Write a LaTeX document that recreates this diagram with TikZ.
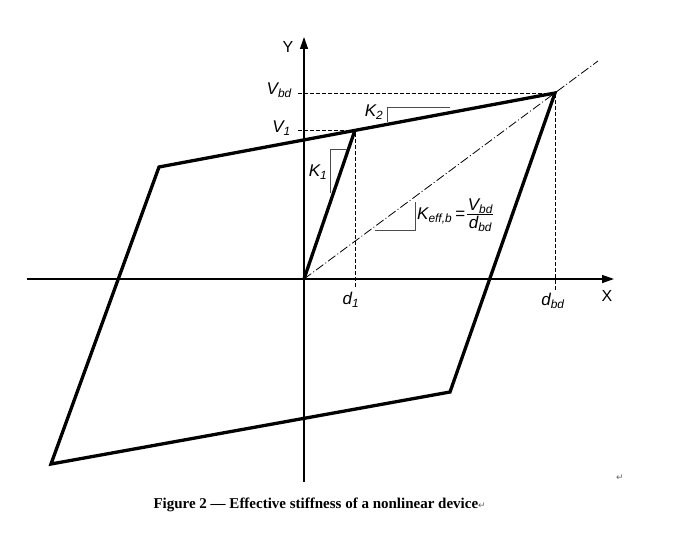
\documentclass[tikz,border=0pt]{standalone}
\usepackage{fontspec}
\setmainfont{Liberation Sans}
\newfontfamily\capfont{Liberation Serif}
\newfontfamily\markfont{DejaVu Sans}
\usetikzlibrary{arrows.meta,positioning}

\tikzset{
	axis/.style={line width=1.3pt, -{Triangle[length=12pt,width=8pt]}},
	curve/.style={line width=3.3pt, line join=miter},
	guide/.style={line width=0.9pt, dash pattern=on 4pt off 2pt},
	secant/.style={line width=0.8pt, dash pattern=on 9pt off 2.5pt on 1pt off 2.5pt},
	slope/.style={line width=1pt, black!70},
	lab/.style={font=\fontsize{17}{17}\selectfont\itshape, inner sep=1pt},
	axlab/.style={font=\fontsize{16}{16}\selectfont, inner sep=1pt},
	retmark/.style={font=\markfont\fontsize{9}{9}\selectfont, text=black!60, inner sep=0pt},
}

\begin{document}
\begin{tikzpicture}[x=1pt, y=-1pt]
	\useasboundingbox (0,0) rectangle (684,537);

	% points of the loop
	\coordinate (o)   at (304,279);
	\coordinate (p1)  at (355,130);
	\coordinate (pbd) at (555,93);
	\coordinate (ul)  at (159,167);
	\coordinate (lr)  at (450,392);
	\coordinate (ll)  at (51,464);
	\coordinate (tip) at (598,61);

	% axes
	\coordinate (xa) at (27,279);
	\coordinate (xb) at (614,279);
	\coordinate (ya) at (304,482);
	\coordinate (yb) at (304,37);
	\draw[axis] (xa) -- (xb);
	\draw[axis] (ya) -- (yb);
	\node[axlab] (xl) at (607,296) {X};
	\node[axlab] (yl) at (288,47) {Y};

	% guide lines
	\coordinate (vbd) at (298,93);
	\coordinate (v1)  at (298,130);
	\coordinate (dbd) at (555,290);
	\coordinate (d1)  at (355,287);
	\draw[guide] (vbd) -- (pbd) -- (dbd);
	\draw[guide] (v1) -- (p1) -- (d1);
	\node[lab, anchor=east] (lvbd) at (293,90)  {V\textsubscript{bd}};
	\node[lab, anchor=east] (lv1)  at (292,128) {V\textsubscript{1}};
	\node[lab] (ld1)  at (351,300) {d\textsubscript{1}};
	\node[lab] (ldbd) at (553,301) {d\textsubscript{bd}};

	% secant
	\draw[secant] (o) -- (tip);

	% hysteresis loop
	\draw[curve] (ul) -- (pbd) -- (lr) -- (ll) -- cycle;
	\draw[curve] (o) -- (p1);

	% slope marks
	\draw[slope] (387,122) |- (450,108);
	\draw[slope] (330,193) |- (347,150);
	\draw[slope] (375,230) -| (415,202);
	\node[lab] (k2) at (374,112) {K\textsubscript{2}};
	\node[lab] (k1) at (318,172) {K\textsubscript{1}};
	\node[lab, anchor=west] (keff) at (416,216) {K\textsubscript{eff,b}\,=};
	\node[lab, right=0pt of keff, font=\fontsize{17}{19}\selectfont\itshape] (frac)
		{\setlength{\tabcolsep}{0.5pt}\begin{tabular}{c}V\textsubscript{bd}\\[-2pt]\hline\rule{0pt}{14pt}d\textsubscript{bd}\end{tabular}};

	% caption
	\node[font=\capfont\bfseries\fontsize{15}{15}\selectfont, anchor=west] (cap) at (150,505)
		{Figure 2 — Effective stiffness of a nonlinear device{\markfont\mdseries\fontsize{9}{9}\selectfont\color{black!60}↵}};
	\node[retmark] (rm) at (620,478) {↵};
\end{tikzpicture}
\end{document}
